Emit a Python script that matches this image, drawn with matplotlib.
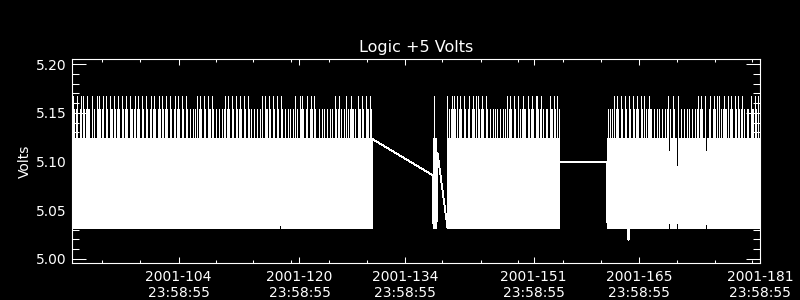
import numpy as np
import matplotlib
matplotlib.use('Agg')
import matplotlib.pyplot as plt

# Logic +5 V telemetry. Each code char is one sample burst (low, high, low)
code_lo = {'1': 5.032, '2': 5.032, '3': 5.032, 'a': 5.058, 'b': 5.079, 'c': 5.089, 'd': 5.076, 'e': 5.019}
code_hi = {'1': 5.123, '2': 5.153, '3': 5.166, 'a': 5.123, 'b': 5.110, 'c': 5.095, 'd': 5.110, 'e': 5.123}

x_start, x_end = 89.87, 181.0
sample_step = (x_end - x_start) / 688      # days between bursts

seg1_start = 89.936
seg1_codes = ''.join([
    "3321231123", "1321232211", "3121132321", "2311321132",
    "2132123211", "3212321132", "2123123211", "3211321123",
    "1232112321", "3212321132", "1123123211", "32113",
    "2112112121",
    "3123211321", "13221321",
    "1211211212",
    "3123211321", "1321232113", "21132",
    "121121121121",
    "3113221321", "13211321a3", "211",
    "2112121121",
    "3121132321", "1231123213", "211",
    "12112121121121211",
    "3212312112", "1312123221", "2113221321", "13221321",
])

# straight line across the first data gap
gap1_days = [129.673, 137.62]
gap1_volts = [5.123, 5.086]

seg2_start = 137.753
seg2_codes = "1311"

gap2_days = [138.282]
gap2_volts = [5.109]

seg3_start = 139.608
seg3_codes = ''.join([
    "3121232321", "3123211321", "1231123213", "1321232113",
    "21121121212112112121",
    "3123211321", "1312123221", "1321232113", "3212312112", "2113221321", "312",
])

flat_days = [154.44, 160.67]
flat_volts = [5.0995, 5.0995]

seg4_start = 160.80
seg4_codes = ''.join([
    "1212121",
    "3123211321", "1321e32113", "2123211321", "3121232",
    "21121121211211212",
    "3b2113211c311",
    "21121121211211212",
    "31232113d1", "1231123213", "1312123221", "3123211321", "3212312112", "2113221321", "31",
])

major_days = [104, 120, 134, 151, 165, 181]
major_labels = ['2001-%03d\n23:58:55' % d for d in major_days]
minor_days = [93.84, 98.9, 109.0, 113.85, 118.9, 123.9, 128.95, 138.9, 144.0, 149.0,
              154.9, 160.0, 170.0, 175.1, 180.0]


def expand(start, codes):
    # the three samples of a burst share one time stamp
    t = np.repeat(start + np.arange(len(codes)) * sample_step, 3)
    v = []
    for c in codes:
        v += [code_lo[c], code_hi[c], code_lo[c]]
    return t, np.array(v)


t1, v1 = expand(seg1_start, seg1_codes)
t2, v2 = expand(seg2_start, seg2_codes)
t3, v3 = expand(seg3_start, seg3_codes)
t4, v4 = expand(seg4_start, seg4_codes)

days = np.concatenate([t1, gap1_days, t2, gap2_days, t3, flat_days, t4])
volts = np.concatenate([v1, gap1_volts, v2, gap2_volts, v3, flat_volts, v4])

fig = plt.figure(figsize=(8, 3), dpi=100, facecolor='black')
ax = fig.add_axes([0.09, 0.1243, 0.86, 0.678], facecolor='black')

ax.plot(days, volts, color='white', lw=0.6, antialiased=False)

ax.set_xlim(x_start, x_end)
ax.set_ylim(4.996, 5.205)

ax.set_xticks(major_days)
ax.set_xticklabels(major_labels)
ax.set_xticks(minor_days, minor=True)
ax.set_yticks([5.00, 5.05, 5.10, 5.15, 5.20])
ax.set_yticklabels(['5.00', '5.05', '5.10', '5.15', '5.20'])
ax.set_yticks(np.arange(5.00, 5.205, 0.01), minor=True)

for s in ax.spines.values():
    s.set_color('white')
    s.set_linewidth(0.8)

ax.tick_params(axis='both', which='both', direction='in', colors='white',
               top=True, right=True, width=0.75, labelsize=10)
ax.tick_params(axis='x', which='major', length=4.3, pad=5)
ax.tick_params(axis='x', which='minor', length=2.2)
ax.tick_params(axis='y', which='major', length=10, pad=4)
ax.tick_params(axis='y', which='minor', length=5)

ax.set_title('Logic +5 Volts', color='white', fontsize=11.5, pad=5)
ax.set_ylabel('Volts', color='white', fontsize=10, labelpad=3)

fig.savefig('out.png', dpi=100, facecolor='black')
